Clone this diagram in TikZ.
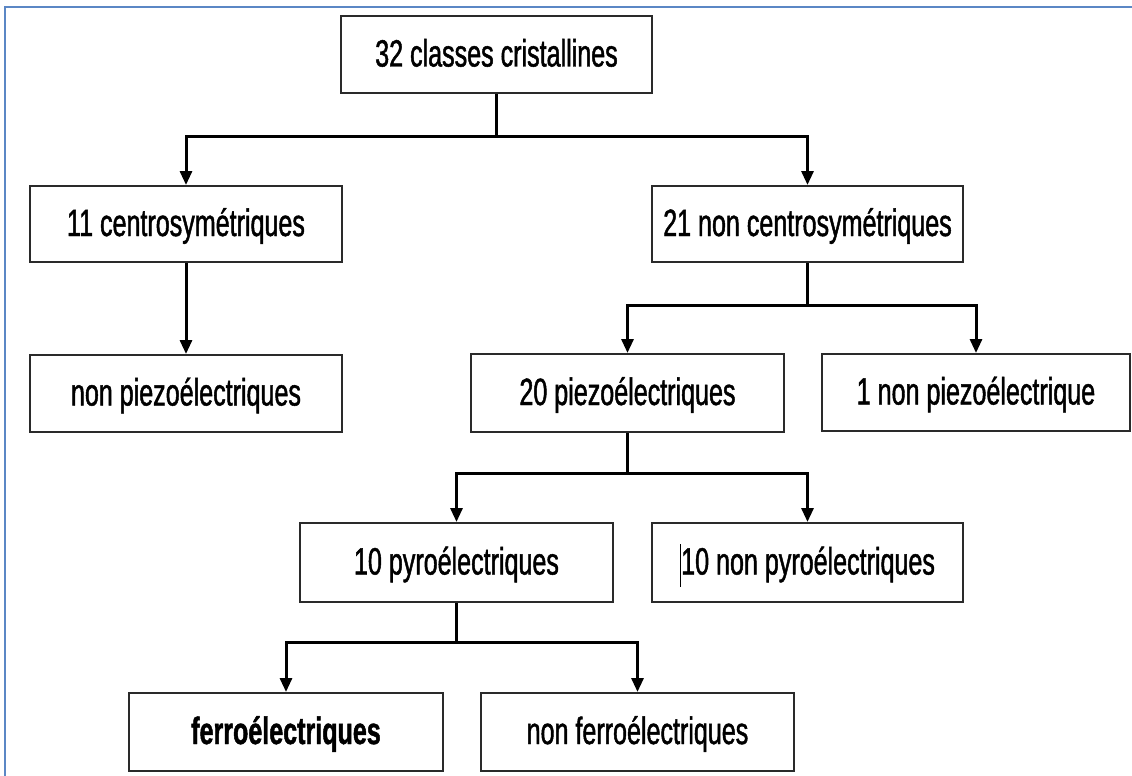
\documentclass[tikz,border=0pt]{standalone}
\usepackage{fontspec}
\setmainfont{Liberation Sans}[FakeStretch=0.66, FakeBold=1.2]
\newfontfamily\heavyf{Liberation Sans Bold}[FakeStretch=0.66, FakeBold=1.2]
\usetikzlibrary{arrows.meta}
\definecolor{frameblue}{HTML}{5B87C5}
\definecolor{boxline}{HTML}{2A2A2A}
\tikzset{
  stepbox/.style={draw=boxline, line width=2pt, inner sep=0pt, fill=white,
    font=\fontsize{38}{40}\selectfont, text height=27pt, text depth=3pt,
    minimum width=312pt, minimum height=77pt},
  conn/.style={line width=3pt, draw=black},
  arr/.style={conn, -{Triangle[length=14pt,width=12pt]}}
}
\begin{document}
\begin{tikzpicture}[x=1pt,y=-1pt]
\useasboundingbox (0,0) rectangle (1132,776);
% frame
\draw[frameblue, line width=2pt] (5,776) -- (5,7) -- (1132,7);
% nodes
\node[stepbox, minimum width=311pt] (a) at (496.5,54.5) {32 classes cristallines};
\node[stepbox, minimum height=76pt] (b) at (186,224) {11 centrosymétriques};
\node[stepbox] (c) at (186,393.5) {non piezoélectriques};
\node[stepbox, minimum width=311pt, minimum height=76pt] (d) at (807.5,224) {21 non centrosymétriques};
\node[stepbox, minimum width=313pt, minimum height=78pt] (e) at (627.5,393) {20 piezoélectriques};
\node[stepbox, minimum width=308pt] (f) at (976,392.5) {1 non piezoélectrique};
\node[stepbox, minimum width=313pt, minimum height=79pt] (g) at (456.5,562.5) {10 pyroélectriques};
\node[stepbox, minimum width=311pt, minimum height=79pt] (h) at (807.5,562.5) {\rule[-0.32em]{1.2pt}{1.12em}10 non pyroélectriques};
\node[stepbox, minimum width=314pt, minimum height=78pt] (i) at (286,732) {\heavyf ferroélectriques};
\node[stepbox, minimum width=313pt, minimum height=78pt] (j) at (637.5,732) {non ferroélectriques};
% junctions
\coordinate (ja) at (496.5,136);
\coordinate (jd) at (807.5,305);
\coordinate (je) at (627.5,473);
\coordinate (jg) at (456.5,642);
% connectors
\draw[conn] (a.south) -- (ja);
\draw[arr] (ja) -| (b.north);
\draw[arr] (ja) -| (d.north);
\draw[arr] (b.south) -- (c.north);
\draw[conn] (d.south) -- (jd);
\draw[arr] (jd) -| (e.north);
\draw[arr] (jd) -| (f.north);
\draw[conn] (e.south) -- (je);
\draw[arr] (je) -| (g.north);
\draw[arr] (je) -| (h.north);
\draw[conn] (g.south) -- (jg);
\draw[arr] (jg) -| (i.north);
\draw[arr] (jg) -| (j.north);
\end{tikzpicture}
\end{document}
